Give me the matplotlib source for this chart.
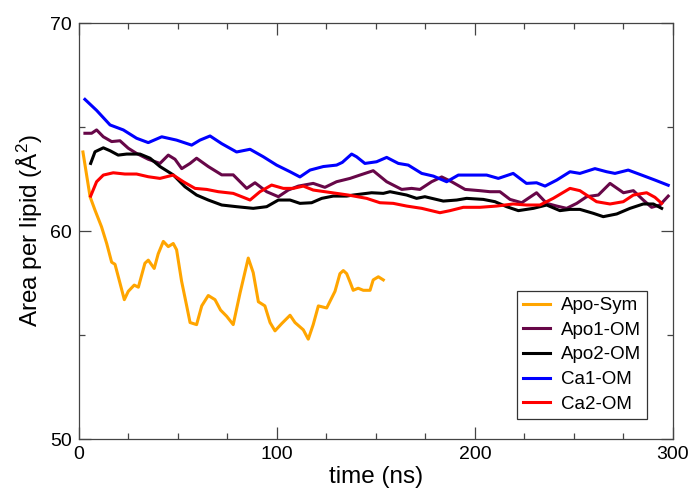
import matplotlib
matplotlib.use("Agg")
import matplotlib.pyplot as plt
from matplotlib.ticker import MultipleLocator

# ---- data (time in ns, area in A^2) ----
apo_sym_t = [2, 5.6, 8.1, 11.4, 14, 16.5, 18.2, 20.7, 22.9, 24.9, 27.9, 30, 33.3, 35, 38, 40,
             42.6, 45.1, 47.6, 49.3, 51.8, 54.4, 56.1, 59.4, 62, 65.3, 68.7, 71.5, 74.6, 77.9,
             81.3, 85.5, 88, 90.6, 93.9, 96.5, 99, 102.4, 106.6, 109.1, 113.3, 115.8, 118.3,
             120.9, 125.1, 129.3, 131.8, 133.5, 135.2, 136.9, 138.5, 141, 143.6, 147, 148.6,
             151.2, 153.7]
apo_sym_v = [63.8, 61.65, 61.0, 60.2, 59.4, 58.5, 58.4, 57.5, 56.7, 57.1, 57.4, 57.3, 58.45, 58.6,
             58.2, 58.9, 59.5, 59.25, 59.4, 59.1, 57.6, 56.4, 55.6, 55.5, 56.4, 56.9, 56.7, 56.2,
             55.9, 55.5, 57.0, 58.7, 58.0, 56.6, 56.4, 55.6, 55.2, 55.55, 55.95, 55.6, 55.25,
             54.8, 55.5, 56.4, 56.3, 57.1, 57.95, 58.1, 57.95, 57.55, 57.15, 57.25, 57.15,
             57.15, 57.65, 57.8, 57.65]

apo1_t = [3, 6.4, 8.9, 12.3, 16.5, 20.7, 24.9, 29.1, 35, 40.9, 45.1, 48.5, 51.9, 56.1, 59.4,
          65.3, 72.1, 77.9, 84.7, 88.9, 94.8, 100.7, 105.7, 110.8, 118.3, 124.2, 130.1, 136.9,
          141.9, 148.6, 155.4, 163, 168, 172.2, 178.1, 183.2, 188.2, 195, 202.5, 207.6, 212.6,
          217.7, 223.6, 231.1, 236.2, 241.3, 246.3, 251.4, 256.4, 262.3, 268.2, 275, 280, 285,
          289.2, 293.4, 297.6]
apo1_v = [64.7, 64.7, 64.86, 64.53, 64.3, 64.34, 63.98, 63.73, 63.45, 63.25, 63.65, 63.45, 63.0,
          63.25, 63.5, 63.1, 62.7, 62.7, 62.05, 62.32, 61.89, 61.65, 61.97, 62.16, 62.29, 62.1,
          62.37, 62.53, 62.69, 62.9, 62.37, 62.0, 62.05, 62.0, 62.37, 62.6, 62.37, 62.0, 61.94,
          61.89, 61.89, 61.52, 61.36, 61.84, 61.33, 61.2, 61.09, 61.33, 61.65, 61.73, 62.29,
          61.84, 61.94, 61.49, 61.14, 61.25, 61.68]

apo2_t = [5.9, 8.1, 12.3, 15.7, 19.8, 24.1, 30.8, 35.9, 40.9, 47.6, 53.5, 59.4, 65.3, 72.1,
          79.6, 88, 94.8, 100.7, 106.6, 111.6, 117.5, 122.6, 128.4, 135.2, 138.5, 147.8, 153.7,
          157.1, 165.5, 170.5, 174.7, 184, 190.8, 195.8, 204.2, 210.1, 216, 221.9, 229.5, 236.2,
          242.9, 248, 253, 259.8, 264.8, 271.6, 278.3, 285, 290.1, 294.3]
apo2_v = [63.25, 63.81, 64.0, 63.86, 63.65, 63.7, 63.7, 63.5, 63.1, 62.7, 62.13, 61.73, 61.49,
          61.25, 61.17, 61.09, 61.17, 61.49, 61.49, 61.33, 61.36, 61.57, 61.68, 61.68, 61.73,
          61.84, 61.81, 61.89, 61.73, 61.57, 61.65, 61.44, 61.49, 61.57, 61.52, 61.41, 61.17,
          60.98, 61.09, 61.25, 60.98, 61.04, 61.04, 60.85, 60.69, 60.82, 61.09, 61.3, 61.3,
          61.09]

ca1_t = [3, 8.9, 15.7, 22.4, 29.1, 35, 41.8, 49.3, 56.9, 61.1, 66.2, 72.1, 79.6, 86.4, 93.1,
         99.8, 106.6, 111.6, 116.7, 123.4, 130.1, 133, 137.7, 140.2, 144.4, 150.3, 155.4, 161.3,
         166.3, 173.1, 179, 185.7, 191.6, 199.1, 205.9, 211.8, 219.3, 226, 231.1, 235.4, 241.3,
         248, 253, 260.6, 266.5, 270.7, 277.4, 284.2, 290.9, 297.6]
ca1_v = [66.33, 65.8, 65.1, 64.86, 64.46, 64.25, 64.53, 64.37, 64.13, 64.37, 64.57, 64.2, 63.8,
         63.93, 63.57, 63.17, 62.85, 62.6, 62.93, 63.1, 63.17, 63.3, 63.7, 63.57, 63.25, 63.33,
         63.54, 63.25, 63.17, 62.77, 62.64, 62.37, 62.69, 62.69, 62.69, 62.53, 62.77, 62.29,
         62.32, 62.16, 62.45, 62.85, 62.77, 63.0, 62.85, 62.77, 62.93, 62.69, 62.45, 62.2]

ca2_t = [5.9, 8.9, 12.3, 17.3, 23.2, 29.1, 35, 40.9, 47.6, 52.7, 58.6, 64.5, 70.4, 77.9, 83,
         86.4, 91.4, 97.3, 103.2, 108.2, 113.3, 118.3, 124.2, 130.1, 136, 145.3, 152, 158.7,
         165.5, 173.1, 182.3, 187.4, 194.1, 202.5, 210.9, 219.3, 226, 232.8, 239.5, 248, 253,
         261.4, 268.2, 274.9, 280, 286.7, 290.9, 294.3]
ca2_v = [61.68, 62.37, 62.69, 62.8, 62.74, 62.74, 62.61, 62.53, 62.69, 62.37, 62.05, 62.0, 61.89,
         61.81, 61.62, 61.49, 61.89, 62.21, 62.05, 62.05, 62.16, 61.97, 61.89, 61.81, 61.73,
         61.57, 61.36, 61.33, 61.2, 61.09, 60.88, 60.98, 61.14, 61.14, 61.2, 61.3, 61.25, 61.25,
         61.57, 62.05, 61.94, 61.41, 61.3, 61.41, 61.73, 61.84, 61.62, 61.33]

labels = ["Apo-Sym", "Apo1-OM", "Apo2-OM", "Ca1-OM", "Ca2-OM"]
colors = ["#ffa500", "#670748", "#000000", "#0000ff", "#ff0000"]

plt.rcParams["font.family"] = ["Liberation Sans", "DejaVu Sans"]
plt.rcParams["mathtext.fontset"] = "custom"
plt.rcParams["mathtext.rm"] = "Liberation Sans"
plt.rcParams["mathtext.it"] = "Liberation Sans:italic"

fig = plt.figure(figsize=(6.94, 4.93), dpi=100)
fig.subplots_adjust(left=0.1138, right=0.9697, top=0.9533, bottom=0.1095)
ax = fig.add_subplot(111)

series = [(apo_sym_t, apo_sym_v), (apo1_t, apo1_v), (apo2_t, apo2_v),
          (ca1_t, ca1_v), (ca2_t, ca2_v)]
for (t, v), lab, c in zip(series, labels, colors):
    ax.plot(t, v, color=c, lw=2.2, label=lab)

ax.set_xlim(0, 300)
ax.set_ylim(50, 70)
ax.xaxis.set_major_locator(MultipleLocator(100))
ax.xaxis.set_minor_locator(MultipleLocator(25))
ax.yaxis.set_major_locator(MultipleLocator(10))
ax.yaxis.set_minor_locator(MultipleLocator(5))

ax.tick_params(which="both", direction="in", top=True, right=True,
               color="#444444", width=0.9, labelsize=14)
ax.tick_params(which="major", length=8.5, pad=5)
ax.tick_params(which="minor", length=4.5)
for s in ax.spines.values():
    s.set_color("#444444")
    s.set_linewidth(0.9)

ax.set_xlabel("time (ns)", fontsize=17.5, labelpad=2)
ax.set_ylabel(r"Area per lipid (Å$^\mathrm{2}$)", fontsize=17.5, labelpad=4)

leg = ax.legend(loc="upper right", bbox_to_anchor=(0.957, 0.357), fontsize=13.5,
                frameon=True, fancybox=False, framealpha=1, edgecolor="#333333",
                handlelength=1.45, handletextpad=0.55, labelspacing=0.4,
                borderpad=0.35, borderaxespad=0)
leg.get_frame().set_linewidth(0.9)

fig.savefig("out.png", dpi=100)
